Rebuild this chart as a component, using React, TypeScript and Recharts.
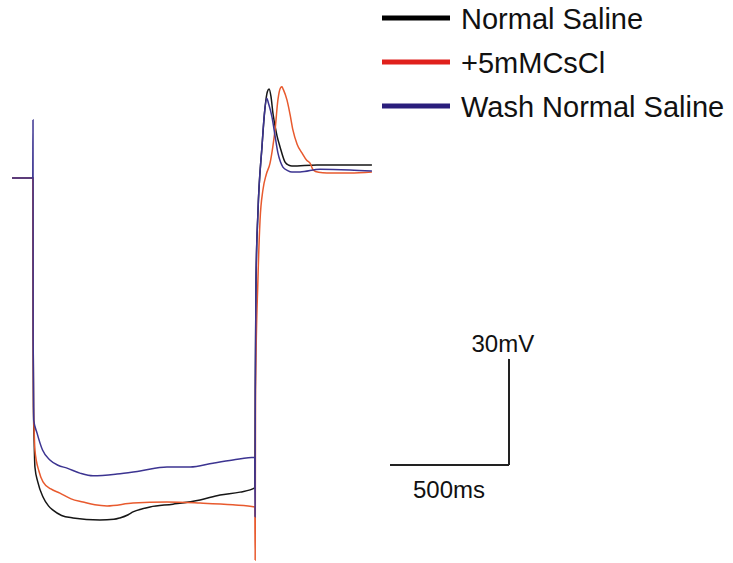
import React from "react";
import { LineChart, Line, XAxis, YAxis, ReferenceLine } from "recharts";

// Time (ms) and membrane potential (mV)
const normalSaline: [number, number][] = [
  [12, -60], [99, -60], [100.5, -100], [102, -125], [105, -135], [108, -141.8],
  [120, -146], [142, -150.3], [165, -152.8], [184, -154.0], [220, -155.5], [268, -156.2], [381, -156.8],
  [440, -156.6], [465, -156.2], [500, -155.3], [520, -154.5], [560, -153.6], [592, -153.1], [688, -152.3], [802, -151.1],
  [886, -149.7], [970, -148.9], [1032, -147.7], [1034, -120], [1037, -88.9],
  [1045, -69.9], [1062, -51.2], [1075, -40], [1085, -35.5], [1092, -34.8],
  [1100, -37], [1108, -41.6], [1125, -48], [1138, -51.2], [1159, -55.5],
  [1175, -56.4], [1188, -56.6], [1293, -56.3], [1524, -56.3],
];

const csCl: [number, number][] = [
  [12, -60], [99, -60], [100.5, -100], [102, -125], [105, -132], [108, -137.0],
  [125, -143], [142, -146.0], [175, -148.0], [213, -149.2], [260, -150.8], [310, -151.7], [360, -152.5], [411, -152.8],
  [520, -152.0], [663, -151.7], [802, -152.0], [940, -152.5], [1032, -153.1],
  [1033.5, -168.1], [1035, -120], [1045, -88.9], [1054, -71.9], [1066, -63.4],
  [1080, -59], [1096, -55.8], [1108, -51], [1117, -46.4], [1129, -37.9], [1140, -34.5], [1146, -34.2],
  [1152, -35], [1167, -37.9], [1180, -42], [1192, -46.4], [1210, -50.5], [1230, -52.9], [1250, -55], [1264, -55.8],
  [1277, -57.7], [1300, -58.4], [1335, -58.6], [1432, -58.6], [1524, -58.3],
];

const washSaline: [number, number][] = [
  [12, -60], [99, -60], [100, -43.6], [100.6, -105.8], [103, -128.5],
  [117, -132.2], [140, -137], [171, -139.8], [205, -141.3], [243, -142.1], [300, -143.6], [352, -144.3],
  [453, -143.8], [550, -142.9], [663, -141.8], [760, -141.8], [856, -140.7],
  [940, -139.8], [1032, -139.0], [1033, -155.9], [1034, -120], [1037, -88.9],
  [1045, -69.9], [1062, -51.2], [1072, -42], [1082, -37.4], [1090, -39],
  [1104, -42.7], [1118, -48.5], [1129, -52.9], [1140, -55.5], [1150, -56.9], [1170, -57.9], [1188, -58.3], [1222, -58.3],
  [1306, -57.5], [1432, -57.7], [1524, -58.0],
];

const seriesNames = ["Normal Saline", "+5mMCsCl", "Wash Normal Saline"];
const traceColors = ["#161616", "#e85a2e", "#3c3491"];
const legendColors = ["#000000", "#e0201c", "#2a1e7c"];

// Scale bar
const scaleStartMs = 1600;
const scaleMs = 500;
const scaleBaseMv = -141.2;
const scaleMv = 30;
const scaleLabels = ["30mV", "500ms"];

const W = 733;
const H = 563;
const X_DOMAIN: [number, number] = [-38.7, 3041.2];
const Y_DOMAIN: [number, number] = [-168.96, -9.62];

const toRows = (pts: [number, number][]) => pts.map(([t, v]) => ({ t, v }));

const allSeries = [normalSaline, csCl, washSaline];

const FONT = "'Liberation Sans', Arial, Helvetica, sans-serif";

export default function App() {
  return (
    <div style={{ position: "absolute", left: 0, top: 0, width: W, height: H, background: "#fff" }}>
      <LineChart width={W} height={H} margin={{ top: 0, right: 0, bottom: 0, left: 0 }}>
        <XAxis type="number" dataKey="t" domain={X_DOMAIN} hide allowDataOverflow />
        <YAxis type="number" dataKey="v" domain={Y_DOMAIN} hide allowDataOverflow />
        {allSeries.map((pts, i) => (
          <Line
            key={seriesNames[i]}
            name={seriesNames[i]}
            data={toRows(pts)}
            dataKey="v"
            type="monotone"
            stroke={traceColors[i]}
            strokeWidth={1.5}
            dot={false}
            activeDot={false}
            isAnimationActive={false}
          />
        ))}
        <ReferenceLine
          segment={[
            { x: scaleStartMs, y: scaleBaseMv },
            { x: scaleStartMs + scaleMs, y: scaleBaseMv },
          ]}
          stroke="#222"
          strokeWidth={2}
        />
        <ReferenceLine
          segment={[
            { x: scaleStartMs + scaleMs, y: scaleBaseMv },
            { x: scaleStartMs + scaleMs, y: scaleBaseMv + scaleMv },
          ]}
          stroke="#222"
          strokeWidth={2}
        />
      </LineChart>
      <svg
        width={W}
        height={H}
        style={{ position: "absolute", left: 0, top: 0, pointerEvents: "none" }}
      >
        {seriesNames.map((name, i) => (
          <g key={name}>
            <line x1={382} x2={450} y1={18 + i * 44} y2={18 + i * 44} stroke={legendColors[i]} strokeWidth={5} />
            <text x={461} y={28.5 + i * 44} fontSize={29} fontFamily={FONT} fill="#111">
              {name}
            </text>
          </g>
        ))}
        <text x={471.5} y={352} fontSize={24} fontFamily={FONT} fill="#111">
          {scaleLabels[0]}
        </text>
        <text x={413} y={497.5} fontSize={24} fontFamily={FONT} fill="#111">
          {scaleLabels[1]}
        </text>
      </svg>
    </div>
  );
}
